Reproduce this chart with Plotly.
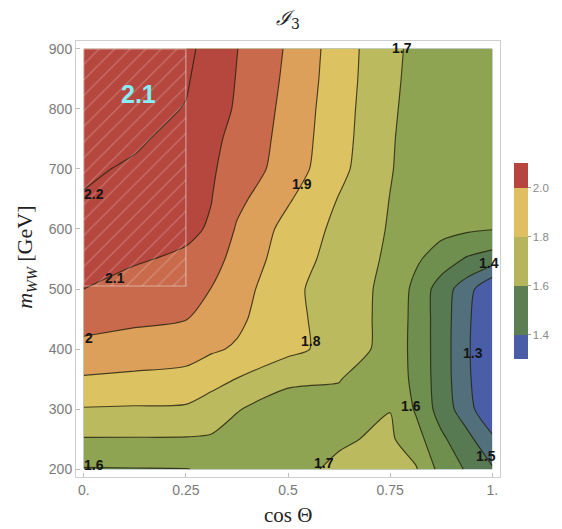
import plotly.graph_objects as go

# Grid of cos(Theta) and m_WW [GeV] values
cos_theta = [0.0, 0.125, 0.25, 0.3125, 0.375, 0.5, 0.625, 0.75, 0.8125, 0.875, 0.9375, 1.0]
m_ww = [200, 250, 300, 350, 400, 450, 500, 550, 600, 650, 700, 750, 800, 850, 900]

# I3 values, one row per m_WW (bottom to top), one column per cos(Theta)
i3 = [
    [1.594, 1.596, 1.598, 1.610, 1.630, 1.675, 1.715, 1.725, 1.710, 1.565, 1.490, 1.410],  # 200
    [1.694, 1.694, 1.693, 1.690, 1.680, 1.670, 1.690, 1.715, 1.640, 1.520, 1.430, 1.320],  # 250
    [1.794, 1.790, 1.787, 1.748, 1.703, 1.672, 1.685, 1.698, 1.590, 1.457, 1.345, 1.200],  # 300
    [1.890, 1.880, 1.870, 1.837, 1.797, 1.712, 1.702, 1.665, 1.575, 1.450, 1.325, 1.180],  # 350
    [1.971, 1.955, 1.940, 1.912, 1.890, 1.830, 1.760, 1.664, 1.570, 1.450, 1.320, 1.175],  # 400
    [2.039, 2.018, 2.003, 1.955, 1.919, 1.829, 1.755, 1.670, 1.570, 1.450, 1.325, 1.180],  # 450
    [2.100, 2.068, 2.046, 1.998, 1.944, 1.824, 1.752, 1.674, 1.575, 1.452, 1.345, 1.200],  # 500
    [2.131, 2.109, 2.085, 2.034, 1.970, 1.849, 1.762, 1.684, 1.615, 1.555, 1.490, 1.455],  # 550
    [2.162, 2.135, 2.120, 2.090, 1.990, 1.868, 1.776, 1.692, 1.642, 1.628, 1.615, 1.604],  # 600
    [2.193, 2.160, 2.145, 2.102, 2.025, 1.911, 1.795, 1.698, 1.652, 1.632, 1.622, 1.613],  # 650
    [2.216, 2.186, 2.155, 2.110, 2.062, 1.954, 1.826, 1.706, 1.660, 1.642, 1.632, 1.622],  # 700
    [2.237, 2.215, 2.165, 2.119, 2.076, 1.963, 1.836, 1.709, 1.665, 1.650, 1.640, 1.630],  # 750
    [2.260, 2.232, 2.196, 2.143, 2.089, 1.971, 1.841, 1.714, 1.670, 1.657, 1.647, 1.637],  # 800
    [2.280, 2.250, 2.210, 2.153, 2.096, 1.981, 1.847, 1.719, 1.675, 1.665, 1.655, 1.645],  # 850
    [2.300, 2.270, 2.225, 2.161, 2.102, 1.989, 1.851, 1.722, 1.680, 1.675, 1.665, 1.655],  # 900
]

x_ticks = [0, 0.25, 0.5, 0.75, 1]
x_ticktext = ["0.", "0.25", "0.5", "0.75", "1."]
y_ticks = [200, 300, 400, 500, 600, 700, 800, 900]
legend_ticks = [1.4, 1.6, 1.8, 2.0]
legend_ticktext = ["1.4", "1.6", "1.8", "2.0"]

# Highlighted region (cos Theta range, m_WW range) and its quoted value
hatch_cos = (0.0, 0.25)
hatch_mww = (505, 900)
hatch_value = "2.1"

# Contour levels shown on the map
level_start, level_end, level_step = 1.3, 2.2, 0.1

# Band colours, lowest band first
band_colors = ["#4a5ea8", "#52707c", "#577a52", "#6e8f4e", "#8ea453", "#bcba5e",
               "#dcc261", "#dda05b", "#c86a4b", "#b6473f", "#b6473f"]
legend_colors = ["#4a5ea8", "#5b7f53", "#b5b55d", "#dfbf62", "#b8443f"]

# Where each contour label sits: (cos Theta, m_WW, level)
label_spots = [
    (0.024, 658, 2.2), (0.076, 518, 2.1), (0.012, 418, 2.0), (0.535, 675, 1.9),
    (0.556, 413, 1.8), (0.778, 902, 1.7), (0.024, 207, 1.6), (0.587, 210, 1.7),
    (0.802, 305, 1.6), (0.985, 222, 1.5), (0.993, 543, 1.4), (0.952, 393, 1.3),
]


def even_scale(colors):
    n = len(colors) - 1
    return [[i / n, c] for i, c in enumerate(colors)]


fig = go.Figure()

# Coarse-band trace underneath: only supplies the colour legend
fig.add_trace(go.Contour(
    x=cos_theta, y=m_ww, z=i3,
    contours=dict(start=1.4, end=2.0, size=0.2, coloring="fill", showlines=False),
    colorscale=even_scale(legend_colors),
    line=dict(width=0),
    hoverinfo="skip",
    showscale=True,
    colorbar=dict(
        x=1.034, xanchor="left", xpad=0,
        y=0.495, yanchor="middle", ypad=0,
        len=0.4495, lenmode="fraction",
        thickness=14, thicknessmode="pixels",
        outlinewidth=0,
        tickvals=legend_ticks, ticktext=legend_ticktext,
        ticks="outside", ticklen=3, tickcolor="#999999",
        tickfont=dict(family="Liberation Sans, Arial", size=11.5, color="#8a8a8a"),
    ),
))

# Main filled contour map
fig.add_trace(go.Contour(
    x=cos_theta, y=m_ww, z=i3,
    contours=dict(start=level_start, end=level_end, size=level_step,
                  coloring="fill", showlines=True),
    colorscale=even_scale(band_colors),
    line=dict(color="rgba(35,32,12,0.8)", width=1.15, smoothing=0.7),
    hoverinfo="skip",
    showscale=False,
))

# Hatched highlight box
hx = [hatch_cos[0], hatch_cos[1], hatch_cos[1], hatch_cos[0], hatch_cos[0]]
hy = [hatch_mww[0], hatch_mww[0], hatch_mww[1], hatch_mww[1], hatch_mww[0]]
fig.add_trace(go.Scatter(
    x=hx, y=hy, mode="lines", fill="toself",
    fillpattern=dict(shape="/", fgcolor="rgba(255,255,255,0.45)",
                     bgcolor="rgba(0,0,0,0)", size=11, solidity=0.12),
    line=dict(color="rgba(255,255,255,0.45)", width=1.2),
    hoverinfo="skip", showlegend=False,
))

annotations = []
for cx, my, lvl in label_spots:
    annotations.append(dict(
        x=cx, y=my, xref="x", yref="y", text=f"<b>{lvl:g}</b>", showarrow=False,
        font=dict(family="Liberation Sans, Arial", size=14, color="#151515"),
        xanchor="center", yanchor="middle",
    ))

annotations.append(dict(
    x=0.134, y=825, xref="x", yref="y",
    text=f"<b>{hatch_value}</b>", showarrow=False,
    font=dict(family="Liberation Sans, Arial", size=25, color="#86eef6"),
))

# Axis titles
annotations.append(dict(
    x=0.5, y=-0.087, xref="paper", yref="paper", showarrow=False,
    text="cos \u0398", font=dict(family="Liberation Serif, Times New Roman", size=21, color="#222222"),
    xanchor="center", yanchor="middle",
))
annotations.append(dict(
    x=-0.118, y=0.505, xref="paper", yref="paper", showarrow=False, textangle=-90,
    text="<i>m</i><sub><i>WW</i></sub> [GeV]",
    font=dict(family="Liberation Serif, Times New Roman", size=22, color="#222222"),
    xanchor="center", yanchor="middle",
))

axis_common = dict(
    showgrid=False, zeroline=False, showline=True, mirror=True,
    linecolor="#cfcfcf", linewidth=1,
    ticks="inside", ticklen=4, tickcolor="#bdbdbd",
    tickfont=dict(family="Liberation Sans, Arial", size=14, color="#7a7a7a"),
)

fig.update_layout(
    width=562, height=529,
    margin=dict(l=76, r=50, t=41, b=52),
    paper_bgcolor="white", plot_bgcolor="white",
    showlegend=False,
    title=dict(text="<i>\u2110</i><sub>3</sub>", x=0.5, xref="paper", xanchor="center",
               y=1 - 18 / 529, yref="container", yanchor="middle",
               font=dict(family="DejaVu Serif, Liberation Serif", size=20, color="#222222")),
    xaxis=dict(range=[-0.019, 1.019], tickvals=x_ticks, ticktext=x_ticktext, **axis_common),
    yaxis=dict(range=[187, 913], tickvals=y_ticks, **axis_common),
    annotations=annotations,
)

fig.write_html("out.html")
